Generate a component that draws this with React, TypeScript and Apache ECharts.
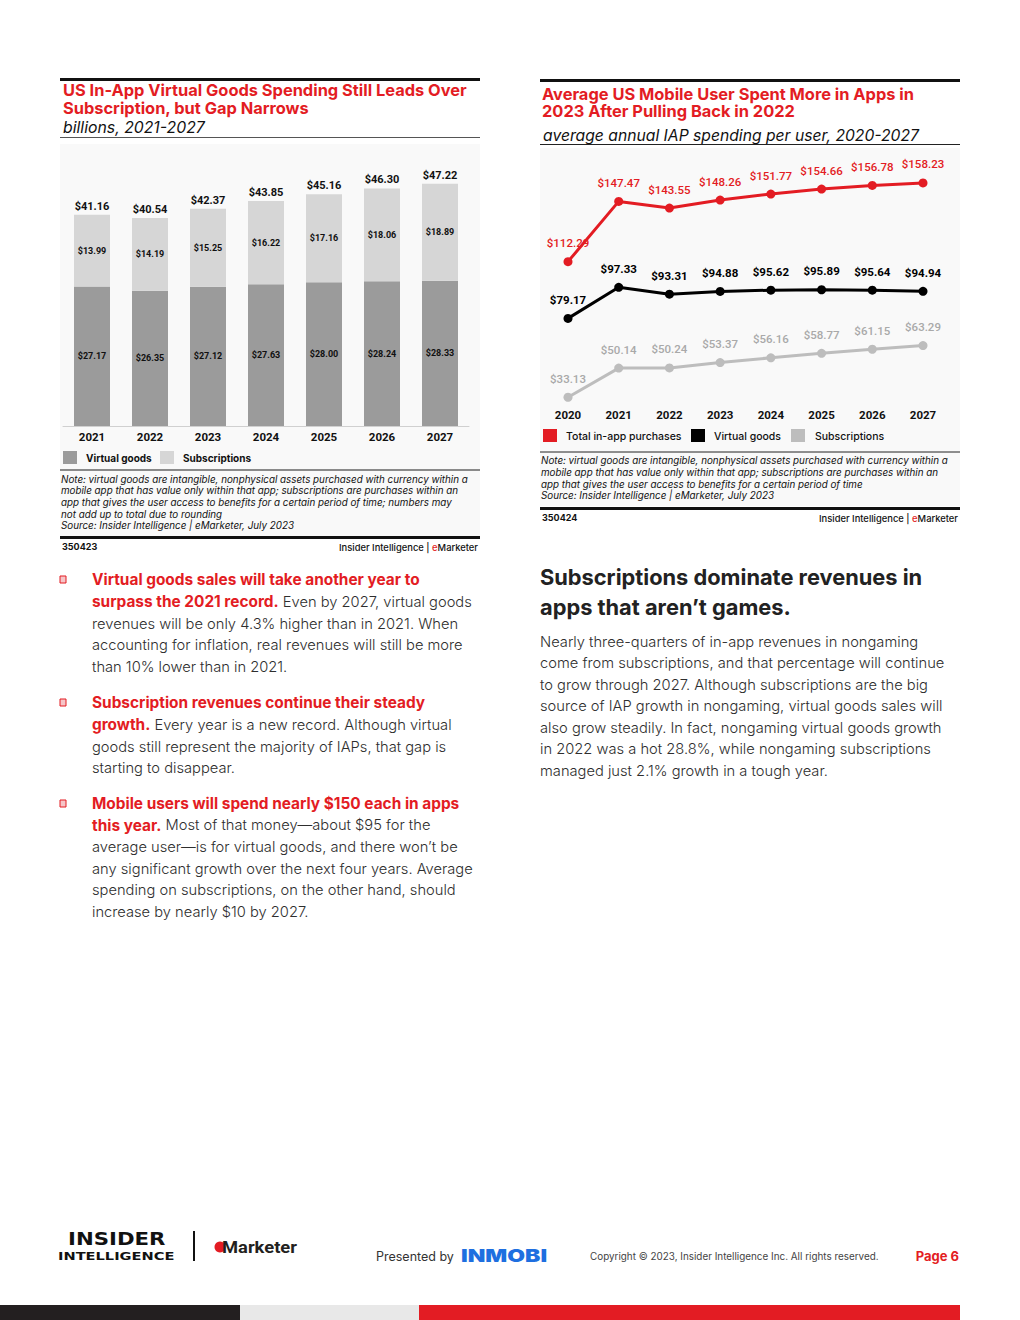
import React, { useEffect, useRef } from "react";
import * as echarts from "echarts";

// ---- Data: left chart (billions) ----
const barYears = ["2021", "2022", "2023", "2024", "2025", "2026", "2027"];
const virtualGoods = [27.17, 26.35, 27.12, 27.63, 28.0, 28.24, 28.33];
const subscriptions = [13.99, 14.19, 15.25, 16.22, 17.16, 18.06, 18.89];
const barTotals = [41.16, 40.54, 42.37, 43.85, 45.16, 46.3, 47.22];

// ---- Data: right chart (per user) ----
const lineYears = ["2020", "2021", "2022", "2023", "2024", "2025", "2026", "2027"];
const totalIAP = [112.29, 147.47, 143.55, 148.26, 151.77, 154.66, 156.78, 158.23];
const virtualPerUser = [79.17, 97.33, 93.31, 94.88, 95.62, 95.89, 95.64, 94.94];
const subsPerUser = [33.13, 50.14, 50.24, 53.37, 56.16, 58.77, 61.15, 63.29];

const RED = "#e31c23";
const FONT = "Inter";
const NUMFONT = "Roboto";
const money = (v: number) => "$" + v.toFixed(2);

function txt(x: number, y: number, text: string, s: any, align = "left", extra: any = {}) {
  return {
    type: "text",
    x,
    y,
    ...extra,
    style: {
      text,
      fontFamily: FONT,
      fill: "#111",
      align,
      textAlign: align,
      verticalAlign: "middle",
      textVerticalAlign: "middle",
      ...s,
    },
  };
}

function para(x: number, yTop: number, lines: string[], rich: any, lineHeight: number) {
  return {
    type: "text",
    x,
    y: yTop,
    style: {
      text: lines.join("\n"),
      rich,
      lineHeight,
      fontFamily: FONT,
      align: "left",
      textAlign: "left",
      verticalAlign: "top",
      textVerticalAlign: "top",
    },
  };
}

function rect(x: number, y: number, w: number, h: number, fill: string, extra: any = {}) {
  return { type: "rect", shape: { x, y, width: w, height: h }, style: { fill, ...extra } };
}

function hline(x1: number, x2: number, y: number, stroke: string, lw: number) {
  return { type: "line", shape: { x1, y1: y, x2, y2: y }, style: { stroke, lineWidth: lw } };
}

const bodyRich = (lh: number) => ({
  h: { fontFamily: FONT, fontSize: 15.4, fontWeight: "bold", fill: RED, color: RED, lineHeight: lh },
  b: { fontFamily: FONT, fontSize: 14.7, fontWeight: 300, fill: "#2e2e2e", color: "#2e2e2e", lineHeight: lh },
});

const noteRich = {
  n: { fontFamily: FONT, fontSize: 9.8, fontStyle: "italic", fill: "#111", color: "#111", lineHeight: 11.6 },
};

const srcRich = {
  a: { fontFamily: FONT, fontSize: 9.4, fontWeight: 500, fill: "#111", color: "#111" },
  r: { fontFamily: FONT, fontSize: 9.4, fontWeight: 500, fill: RED, color: RED },
};

const titleRich = { t: { fontFamily: FONT, fontSize: 16.4, fontWeight: "bold", fill: RED, color: RED, lineHeight: 17.5 } };

export default function App() {
  const ref = useRef<HTMLDivElement>(null);

  useEffect(() => {
    if (!ref.current) return;
    const chart = echarts.init(ref.current, null, { renderer: "svg" });

    const graphics: any[] = [
      // ---------- Left chart frame ----------
      rect(60, 144, 420, 392, "#f9f9f9"),
      rect(60, 78, 420, 3, "#111"),
      para(63, 81.5, [
        "{t|US In-App Virtual Goods Spending Still Leads Over}",
        "{t|Subscription, but Gap Narrows}",
      ], titleRich, 17.5),
      txt(63, 127, "billions, 2021-2027", { fontSize: 15.8, fontStyle: "italic", fill: "#111" }),
      hline(60, 480, 137.5, "#555", 1),
      rect(63, 451, 14, 13, "#9b9b9b"),
      txt(86, 457.5, "Virtual goods", { fontSize: 10, fontWeight: "bold" }),
      rect(160, 451, 14, 13, "#d6d6d6"),
      txt(183, 457.5, "Subscriptions", { fontSize: 10, fontWeight: "bold" }),
      hline(60, 480, 470, "#8a8a8a", 2),
      para(61, 473.5, [
        "{n|Note: virtual goods are intangible, nonphysical assets purchased with currency within a}",
        "{n|mobile app that has value only within that app; subscriptions are purchases within an}",
        "{n|app that gives the user access to benefits for a certain period of time; numbers may}",
        "{n|not add up to total due to rounding}",
        "{n|Source: Insider Intelligence | eMarketer, July 2023}",
      ], noteRich, 11.6),
      rect(60, 536, 420, 3, "#111"),
      txt(62, 546, "350423", { fontSize: 9, fontWeight: "bold" }),
      {
        type: "text", x: 478, y: 547,
        style: { text: "{a|Insider Intelligence | }{r|e}{a|Marketer}", rich: srcRich, align: "right", textAlign: "right", verticalAlign: "middle", textVerticalAlign: "middle" },
      },

      // ---------- Right chart frame ----------
      rect(540, 148, 420, 358, "#f9f9f9"),
      rect(540, 79, 420, 3, "#111"),
      para(542, 85, [
        "{t|Average US Mobile User Spent More in Apps in}",
        "{t|2023 After Pulling Back in 2022}",
      ], titleRich, 17.5),
      txt(543, 135, "average annual IAP spending per user, 2020-2027", { fontSize: 15.7, fontStyle: "italic", fill: "#111" }),
      hline(540, 960, 144.5, "#222", 1),
      rect(543, 429, 14, 13, RED),
      txt(566, 436, "Total in-app purchases", { fontSize: 10.5, fontWeight: 500 }),
      rect(691, 429, 14, 13, "#000"),
      txt(714, 436, "Virtual goods", { fontSize: 10.5, fontWeight: 500 }),
      rect(791, 429, 14, 13, "#bdbdbd"),
      txt(815, 436, "Subscriptions", { fontSize: 10.5, fontWeight: 500 }),
      hline(540, 960, 452, "#222", 1),
      para(541, 455.2, [
        "{n|Note: virtual goods are intangible, nonphysical assets purchased with currency within a}",
        "{n|mobile app that has value only within that app; subscriptions are purchases within an}",
        "{n|app that gives the user access to benefits for a certain period of time}",
        "{n|Source: Insider Intelligence | eMarketer, July 2023}",
      ], noteRich, 11.6),
      rect(540, 507, 420, 3, "#111"),
      txt(542, 517, "350424", { fontSize: 9, fontWeight: "bold" }),
      {
        type: "text", x: 958, y: 518,
        style: { text: "{a|Insider Intelligence | }{r|e}{a|Marketer}", rich: srcRich, align: "right", textAlign: "right", verticalAlign: "middle", textVerticalAlign: "middle" },
      },

      // ---------- Left body text ----------
      rect(60, 576, 6, 7, "#f6c5c8", { stroke: RED, lineWidth: 1 }),
      rect(60, 699, 6, 7, "#f6c5c8", { stroke: RED, lineWidth: 1 }),
      rect(60, 800, 6, 7, "#f6c5c8", { stroke: RED, lineWidth: 1 }),
      para(92, 569.1, [
        "{h|Virtual goods sales will take another year to}",
        "{h|surpass the 2021 record.}{b| Even by 2027, virtual goods}",
        "{b|revenues will be only 4.3% higher than in 2021. When}",
        "{b|accounting for inflation, real revenues will still be more}",
        "{b|than 10% lower than in 2021.}",
      ], bodyRich(21.8), 21.8),
      para(92, 692.1, [
        "{h|Subscription revenues continue their steady}",
        "{h|growth.}{b| Every year is a new record. Although virtual}",
        "{b|goods still represent the majority of IAPs, that gap is}",
        "{b|starting to disappear.}",
      ], bodyRich(21.8), 21.8),
      para(92, 793.1, [
        "{h|Mobile users will spend nearly $150 each in apps}",
        "{h|this year.}{b| Most of that money\u2014about $95 for the}",
        "{b|average user\u2014is for virtual goods, and there won\u2019t be}",
        "{b|any significant growth over the next four years. Average}",
        "{b|spending on subscriptions, on the other hand, should}",
        "{b|increase by nearly $10 by 2027.}",
      ], bodyRich(21.6), 21.6),

      // ---------- Right body text ----------
      para(540, 562, [
        "{g|Subscriptions dominate revenues in}",
        "{g|apps that aren\u2019t games.}",
      ], { g: { fontFamily: FONT, fontSize: 21.8, fontWeight: "bold", fill: "#222", color: "#222", lineHeight: 30 } }, 30),
      para(540, 631.2, [
        "{b|Nearly three-quarters of in-app revenues in nongaming}",
        "{b|come from subscriptions, and that percentage will continue}",
        "{b|to grow through 2027. Although subscriptions are the big}",
        "{b|source of IAP growth in nongaming, virtual goods sales will}",
        "{b|also grow steadily. In fact, nongaming virtual goods growth}",
        "{b|in 2022 was a hot 28.8%, while nongaming subscriptions}",
        "{b|managed just 2.1% growth in a tough year.}",
      ], bodyRich(21.5), 21.5),

      // ---------- Footer ----------
      txt(68, 1239, "INSIDER", { fontFamily: "DejaVu Sans", fontSize: 17, fontWeight: "bold", fill: "#111" }, "left", { scaleX: 1.25 }),
      txt(58, 1256, "INTELLIGENCE", { fontFamily: "DejaVu Sans", fontSize: 10, fontWeight: "bold", fill: "#111" }, "left", { scaleX: 1.46 }),
      { type: "line", shape: { x1: 194, y1: 1231, x2: 194, y2: 1261 }, style: { stroke: "#111", lineWidth: 2 } },
      { type: "circle", shape: { cx: 220, cy: 1247, r: 5.5 }, style: { fill: RED } },
      txt(222, 1247, "Marketer", { fontFamily: NUMFONT, fontSize: 17, fontWeight: "bold", fill: "#231f20" }, "left", { scaleX: 1.08 }),
      txt(376, 1256, "Presented by", { fontSize: 12.5, fill: "#333" }),
      txt(461, 1256, "INMOBI", { fontSize: 17, fontWeight: 900, fill: "#1e6fe0" }, "left", { scaleX: 1.35 }),
      txt(590, 1256, "Copyright \u00a9 2023, Insider Intelligence Inc. All rights reserved.", { fontSize: 9.9, fill: "#444" }),
      txt(959, 1256, "Page 6", { fontSize: 13, fontWeight: "bold", fill: RED }, "right"),
      rect(0, 1305, 240, 15, "#231f20"),
      rect(240, 1305, 179, 15, "#e8e8e8"),
      rect(419, 1305, 541, 15, RED),
    ];

    const lineLabel = (color: string, weight: any) => ({
      show: true,
      position: "top",
      distance: 8,
      formatter: (p: any) => money(p.value),
      color,
      fontFamily: NUMFONT,
      fontSize: 11.5,
      fontWeight: weight,
    });

    chart.setOption({
      animation: false,
      backgroundColor: "#ffffff",
      grid: [
        { left: 63, top: 169.5, width: 406, height: 256.5, containLabel: false },
        { left: 568, top: 162.8, width: 355, height: 239.8, containLabel: false },
      ],
      xAxis: [
        {
          type: "category",
          gridIndex: 0,
          data: barYears,
          axisLine: { lineStyle: { color: "#d0d0d0", width: 1 } },
          axisTick: { show: false },
          axisLabel: { margin: 5, color: "#111", fontFamily: NUMFONT, fontSize: 11.5, fontWeight: "bold" },
        },
        {
          type: "category",
          gridIndex: 1,
          data: lineYears,
          boundaryGap: false,
          axisLine: { show: false },
          axisTick: { show: false },
          axisLabel: { margin: 6, color: "#111", fontFamily: NUMFONT, fontSize: 11.5, fontWeight: "bold" },
        },
      ],
      yAxis: [
        { type: "value", gridIndex: 0, min: 0, max: 50, show: false, splitLine: { show: false } },
        { type: "value", gridIndex: 1, min: 30, max: 170, show: false, splitLine: { show: false } },
      ],
      series: [
        {
          type: "bar",
          name: "Virtual goods",
          xAxisIndex: 0,
          yAxisIndex: 0,
          stack: "iap",
          barWidth: 36,
          data: virtualGoods,
          itemStyle: { color: "#9b9b9b" },
          label: { show: true, position: "inside", formatter: (p: any) => money(p.value), color: "#111", fontFamily: NUMFONT, fontSize: 9, fontWeight: "bold" },
        },
        {
          type: "bar",
          name: "Subscriptions",
          xAxisIndex: 0,
          yAxisIndex: 0,
          stack: "iap",
          barWidth: 36,
          data: subscriptions,
          itemStyle: { color: "#d6d6d6" },
          label: { show: true, position: "inside", formatter: (p: any) => money(p.value), color: "#111", fontFamily: NUMFONT, fontSize: 9, fontWeight: "bold" },
        },
        {
          type: "bar",
          name: "Total",
          xAxisIndex: 0,
          yAxisIndex: 0,
          barWidth: 36,
          barGap: "-100%",
          data: barTotals,
          itemStyle: { color: "rgba(0,0,0,0)" },
          label: { show: true, position: "top", distance: 3, formatter: (p: any) => money(p.value), color: "#111", fontFamily: NUMFONT, fontSize: 11, fontWeight: "bold" },
          z: 1,
        },
        {
          type: "line",
          name: "Total in-app purchases",
          xAxisIndex: 1,
          yAxisIndex: 1,
          data: totalIAP,
          symbol: "circle",
          symbolSize: 9,
          lineStyle: { color: RED, width: 3 },
          itemStyle: { color: RED },
          label: lineLabel(RED, 500),
        },
        {
          type: "line",
          name: "Virtual goods per user",
          xAxisIndex: 1,
          yAxisIndex: 1,
          data: virtualPerUser,
          symbol: "circle",
          symbolSize: 9,
          lineStyle: { color: "#000", width: 3 },
          itemStyle: { color: "#000" },
          label: lineLabel("#000", "bold"),
        },
        {
          type: "line",
          name: "Subscriptions per user",
          xAxisIndex: 1,
          yAxisIndex: 1,
          data: subsPerUser,
          symbol: "circle",
          symbolSize: 9,
          lineStyle: { color: "#bdbdbd", width: 3 },
          itemStyle: { color: "#bdbdbd" },
          label: lineLabel("#a9a9a9", 500),
        },
      ],
      graphic: { elements: graphics.map((g) => ({ ...g, z: g.type === "rect" && g.style.fill === "#f9f9f9" ? -10 : 100 })) },
    });

    return () => chart.dispose();
  }, []);

  return (
    <div
      ref={ref}
      style={{ position: "absolute", left: 0, top: 0, width: 1020, height: 1320, background: "#fff" }}
    />
  );
}
